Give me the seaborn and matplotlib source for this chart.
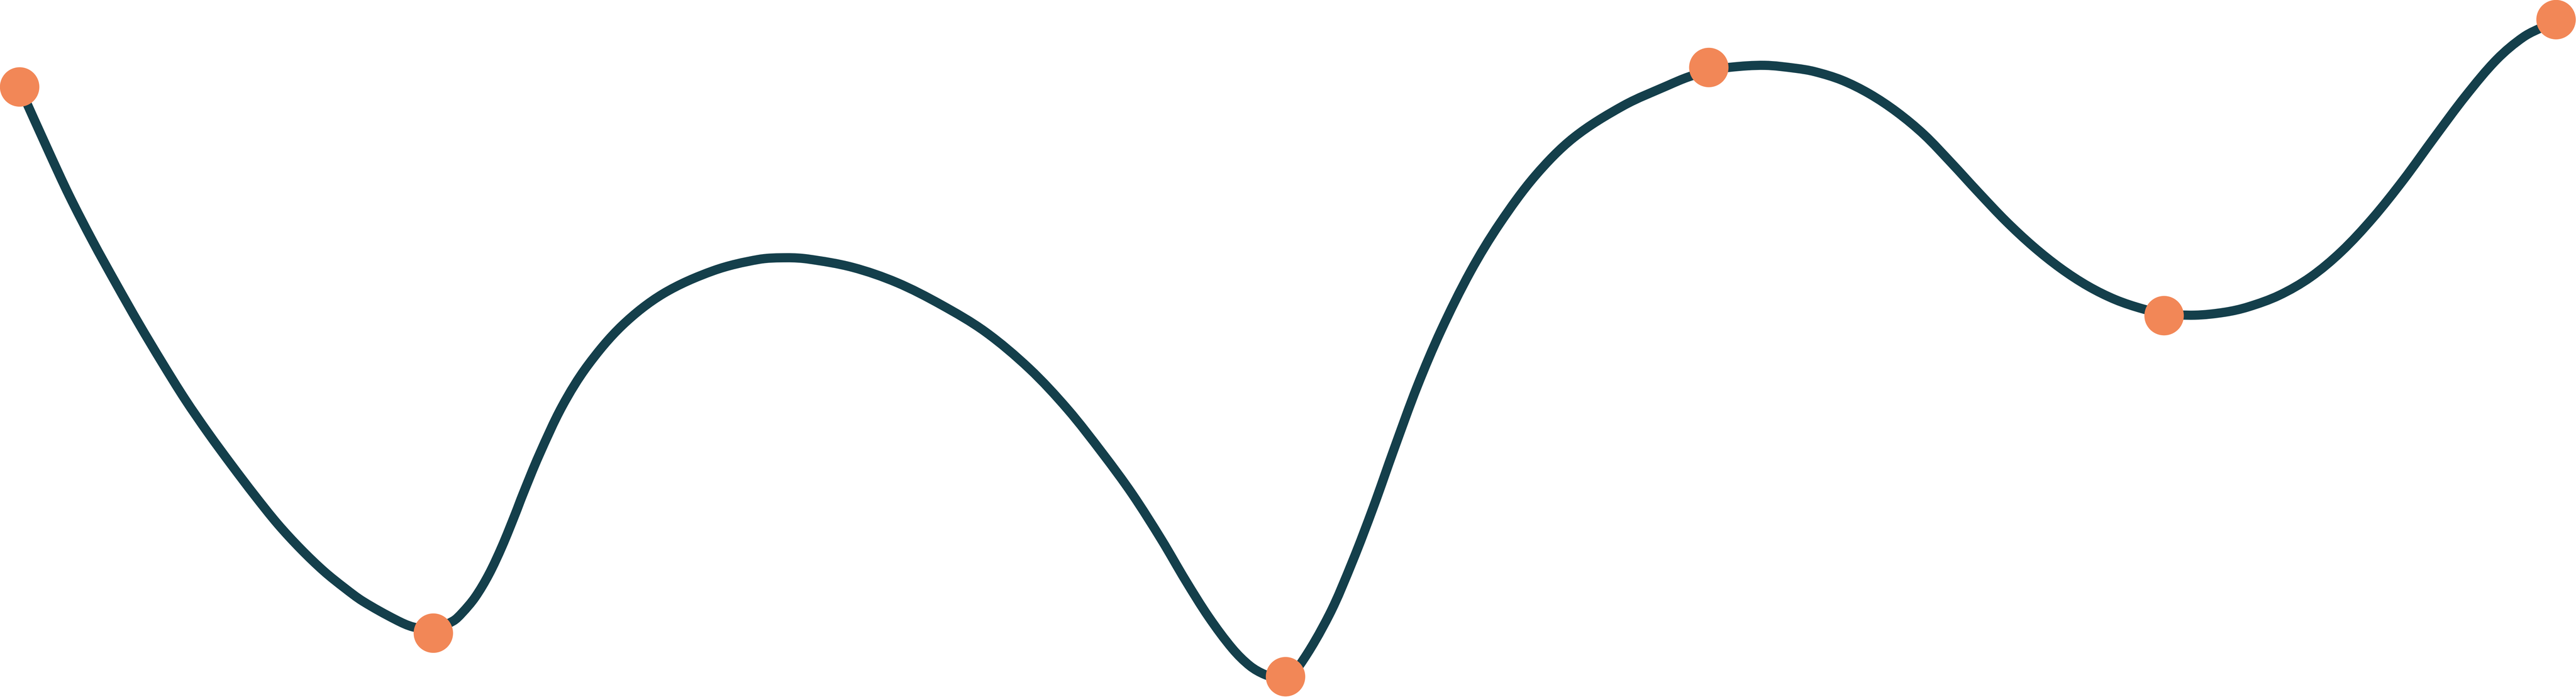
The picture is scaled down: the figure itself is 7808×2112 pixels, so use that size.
import matplotlib
matplotlib.use("Agg")
import numpy as np
import matplotlib.pyplot as plt
from matplotlib.path import Path
from matplotlib.patches import PathPatch
import seaborn as sns

# curve (pixel-like units, y grows downwards)
curve_x = [59, 148, 210, 281, 351, 421, 491, 561, 631, 702,
           772, 842, 912, 982, 1045, 1100, 1200, 1253, 1313, 1373,
           1400, 1440, 1482, 1522, 1562, 1584, 1634, 1704, 1781, 1886,
           2010, 2163, 2300, 2385, 2450, 2584, 2718, 2852, 2986, 3120,
           3236, 3343, 3432, 3521, 3593, 3664, 3736, 3789, 3834, 3870,
           3900, 3939, 4029, 4100, 4163, 4225, 4296, 4368, 4457, 4546,
           4654, 4770, 4921, 5055, 5118, 5179, 5243, 5349, 5443, 5500,
           5583, 5666, 5749, 5832, 5915, 5997, 6080, 6163, 6246, 6329,
           6412, 6495, 6560, 6652, 6744, 6814, 6908, 7003, 7097, 7191,
           7285, 7380, 7474, 7568, 7649, 7716, 7747]
curve_y = [263, 460, 593, 731, 858, 981, 1098, 1210, 1312, 1409,
           1501, 1588, 1664, 1731, 1782, 1822, 1878, 1900, 1906, 1882,
           1858, 1810, 1740, 1655, 1557, 1500, 1379, 1231, 1108, 986,
           890, 820, 786, 781, 785, 810, 856, 923, 1005, 1117,
           1240, 1375, 1497, 1636, 1758, 1870, 1966, 2018, 2044, 2052,
           2048, 2016, 1863, 1700, 1536, 1362, 1170, 1001, 823, 677,
           532, 417, 320, 259, 233, 216, 204, 198, 207, 217,
           243, 284, 339, 408, 494, 583, 670, 747, 813, 867,
           908, 936, 950, 955, 946, 930, 895, 840, 762, 662,
           545, 415, 290, 180, 112, 78, 66]

# highlighted points
point_x = [59, 1313, 3896, 5179, 6559, 7747]
point_y = [263, 1918, 2050, 204, 956, 59]


def smooth_path(xs, ys):
    # cubic Hermite segments through the traced points (chord-length tangents)
    pts = np.column_stack([xs, ys]).astype(float)
    seg = np.linalg.norm(np.diff(pts, axis=0), axis=1)
    t = np.concatenate([[0], np.cumsum(seg)])
    tang = np.zeros_like(pts)
    tang[1:-1] = (pts[2:] - pts[:-2]) / (t[2:] - t[:-2])[:, None]
    tang[0] = (pts[1] - pts[0]) / seg[0]
    tang[-1] = (pts[-1] - pts[-2]) / seg[-1]
    verts = [pts[0]]
    codes = [Path.MOVETO]
    for i in range(len(pts) - 1):
        h = seg[i] / 3
        verts += [pts[i] + tang[i] * h, pts[i + 1] - tang[i + 1] * h, pts[i + 1]]
        codes += [Path.CURVE4] * 3
    return Path(verts, codes)


sns.set_style("white")

fig = plt.figure(figsize=(78.08, 21.12), dpi=100)
ax = fig.add_axes([0, 0, 1, 1])

curve = PathPatch(smooth_path(curve_x, curve_y), facecolor="none",
                  edgecolor="#143F4B", linewidth=20, capstyle="round",
                  joinstyle="round", zorder=2)
ax.add_patch(curve)

sns.scatterplot(x=point_x, y=point_y, color="#F28757", s=7400, linewidth=0,
                ax=ax, zorder=3, clip_on=False)

ax.set_xlim(0, 7808)
ax.set_ylim(2112, 0)
ax.axis("off")

fig.savefig("out.png", dpi=100, facecolor="white")
